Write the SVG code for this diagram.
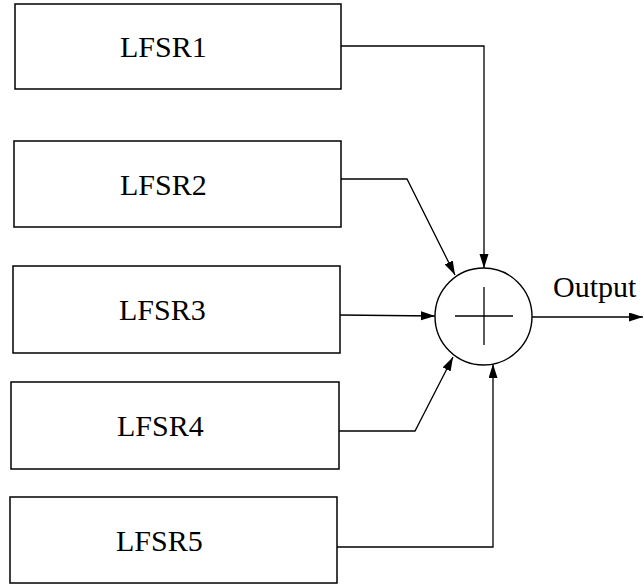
<svg xmlns="http://www.w3.org/2000/svg" width="644" height="586" viewBox="0 0 644 586">
<defs>
<style>
.box{fill:#fff;stroke:#000;stroke-width:1.5}
.lbl{font-family:"Liberation Serif","Times New Roman",serif;font-size:30px;fill:#000}
.ln{fill:none;stroke:#000;stroke-width:1.3}
</style>
<marker id="ah" markerUnits="userSpaceOnUse" markerWidth="16" markerHeight="10" refX="14" refY="4.5" orient="auto">
<path d="M0,0 L14,4.5 L0,9 z" fill="#000"/>
</marker>
</defs>
<rect width="644" height="586" fill="#fff"/>
<g id="lfsr1"><rect class="box" x="15" y="4" width="326" height="85"/><text class="lbl" x="120" y="57">LFSR1</text></g>
<g id="lfsr2"><rect class="box" x="14" y="141" width="327" height="86"/><text class="lbl" x="120" y="195">LFSR2</text></g>
<g id="lfsr3"><rect class="box" x="13" y="266" width="327" height="87"/><text class="lbl" x="119" y="320">LFSR3</text></g>
<g id="lfsr4"><rect class="box" x="11" y="382" width="328" height="87"/><text class="lbl" x="117" y="436">LFSR4</text></g>
<g id="lfsr5"><rect class="box" x="10" y="497" width="327" height="86"/><text class="lbl" x="116" y="551">LFSR5</text></g>
<g id="xor">
<circle cx="483.5" cy="316.5" r="48.5" fill="#fff" stroke="#000" stroke-width="1.4"/>
<line class="ln" x1="455" y1="316" x2="513" y2="316"/>
<line class="ln" x1="484" y1="287" x2="484" y2="345"/>
</g>
<g id="outlabel"><text class="lbl" x="553" y="297">Output</text></g>
<g id="connectors">
<polyline class="ln" points="341,46 484,46 484,268" marker-end="url(#ah)"/>
<polyline class="ln" points="341,179 407,179 455,275" marker-end="url(#ah)"/>
<polyline class="ln" points="340,315 435,316" marker-end="url(#ah)"/>
<polyline class="ln" points="339,431 415,431 453,357" marker-end="url(#ah)"/>
<polyline class="ln" points="337,547 493,547 493,364" marker-end="url(#ah)"/>
<polyline class="ln" points="532,317 643,317" marker-end="url(#ah)"/>
</g>
</svg>
